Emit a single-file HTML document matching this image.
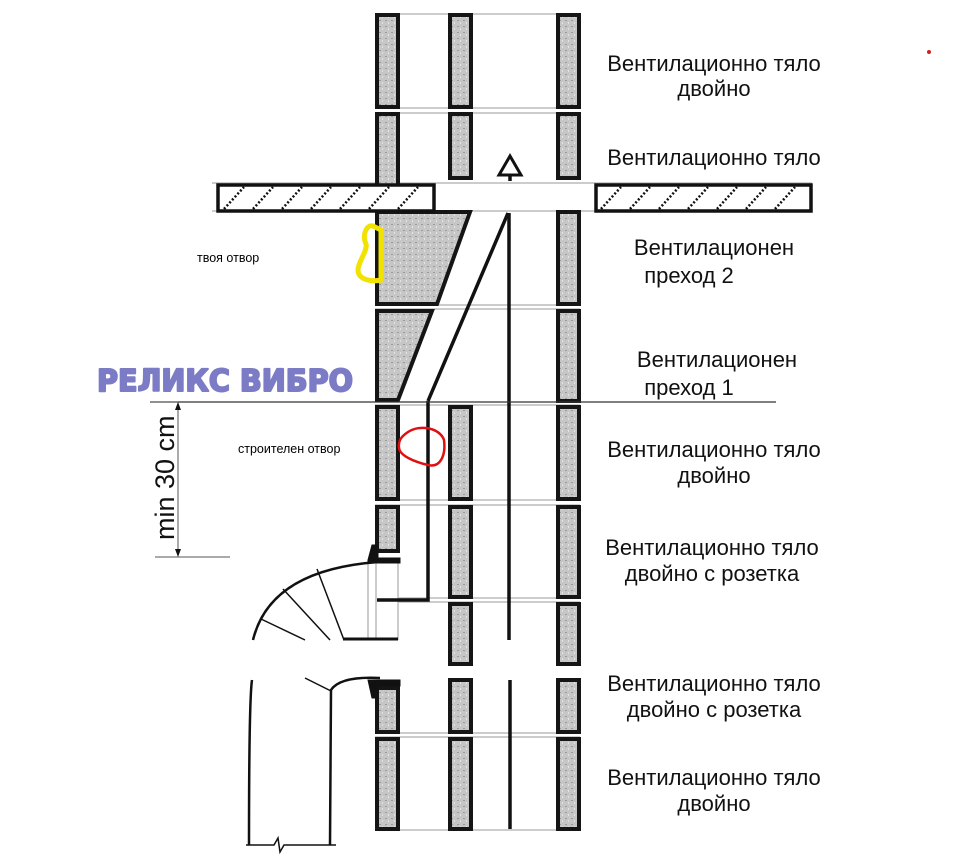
<!DOCTYPE html>
<html><head><meta charset="utf-8"><style>
html,body{margin:0;padding:0;background:#fff;}
svg{display:block}
.lb{font-family:"Liberation Sans",sans-serif;font-size:22px;fill:#111;text-anchor:middle}
.sm{font-family:"Liberation Sans",sans-serif;font-size:12.5px;fill:#000}
</style></head><body>
<svg width="964" height="858" viewBox="0 0 964 858" xmlns="http://www.w3.org/2000/svg">
<defs>
<pattern id="tx" width="6" height="6" patternUnits="userSpaceOnUse">
<rect width="6" height="6" fill="#c6c6c6"/><rect x="1" y="2" width="2" height="1" fill="#9a9a9a"/><rect x="4" y="4" width="1" height="2" fill="#e4e4e4"/>
</pattern>
</defs>
<g stroke="#bbb" stroke-width="1.5">
<line x1="375" y1="14" x2="580" y2="14"/><line x1="375" y1="108" x2="580" y2="108"/><line x1="375" y1="113" x2="580" y2="113"/>
<line x1="375" y1="305" x2="580" y2="305"/><line x1="375" y1="309" x2="580" y2="309"/>
<line x1="375" y1="405" x2="580" y2="405"/><line x1="375" y1="500" x2="580" y2="500"/><line x1="375" y1="505" x2="580" y2="505"/>
<line x1="398" y1="598" x2="580" y2="598"/><line x1="398" y1="602" x2="580" y2="602"/>
<line x1="375" y1="733" x2="580" y2="733"/><line x1="375" y1="737" x2="580" y2="737"/><line x1="375" y1="830" x2="580" y2="830"/>
<line x1="368" y1="561" x2="368" y2="640"/><line x1="376" y1="561" x2="376" y2="640"/><line x1="398" y1="561" x2="398" y2="640"/>
<line x1="212" y1="183" x2="812" y2="183"/><line x1="212" y1="211" x2="812" y2="211"/>
</g>
<g fill="url(#tx)" stroke="#151515" stroke-width="4">
<rect x="377" y="15" width="21" height="92"/><rect x="450" y="15" width="21" height="92"/><rect x="558" y="15" width="21" height="92"/>
<rect x="377" y="114" width="21" height="72"/><rect x="450" y="114" width="21" height="64"/><rect x="558" y="114" width="21" height="64"/>
<rect x="558" y="212" width="21" height="92"/><rect x="558" y="311" width="21" height="90"/>
<polygon points="377,212 470,212 437,304 377,304"/>
<polygon points="377,311 432,311 398,400 377,400"/>
<rect x="377" y="407" width="21" height="92"/><rect x="450" y="407" width="21" height="92"/><rect x="558" y="407" width="21" height="92"/>
<rect x="377" y="507" width="21" height="44"/><rect x="450" y="507" width="21" height="90"/><rect x="558" y="507" width="21" height="90"/>
<rect x="450" y="604" width="21" height="60"/><rect x="558" y="604" width="21" height="60"/>
<rect x="450" y="680" width="21" height="52"/><rect x="558" y="680" width="21" height="52"/>
<rect x="377" y="688" width="21" height="44"/>
<rect x="377" y="739" width="21" height="90"/><rect x="450" y="739" width="21" height="90"/><rect x="558" y="739" width="21" height="90"/>
</g>
<g stroke="#111" stroke-width="3.5" fill="#fff">
<rect x="218" y="185" width="216" height="26"/><rect x="596" y="185" width="215" height="26"/>
</g>
<g stroke="#111" stroke-width="2.5" stroke-dasharray="2,2">
<line x1="224" y1="209" x2="244" y2="187"/><line x1="253" y1="209" x2="273" y2="187"/><line x1="282" y1="209" x2="302" y2="187"/><line x1="311" y1="209" x2="331" y2="187"/><line x1="340" y1="209" x2="360" y2="187"/><line x1="369" y1="209" x2="389" y2="187"/><line x1="398" y1="209" x2="418" y2="187"/>
<line x1="601" y1="209" x2="621" y2="187"/><line x1="630" y1="209" x2="650" y2="187"/><line x1="659" y1="209" x2="679" y2="187"/><line x1="688" y1="209" x2="708" y2="187"/><line x1="717" y1="209" x2="737" y2="187"/><line x1="746" y1="209" x2="766" y2="187"/><line x1="775" y1="209" x2="795" y2="187"/>
</g>
<g stroke="#111" stroke-width="3.5" fill="none">
<line x1="508" y1="213" x2="428" y2="401"/>
<line x1="509" y1="213" x2="509" y2="640"/>
<line x1="510" y1="680" x2="510" y2="829"/>
<polyline points="428,401 428,600 377,600"/>
<polygon points="499,175 510,156 521,175" stroke-width="3"/>
<line x1="510" y1="175" x2="510" y2="181"/>
</g>
<line x1="150" y1="402" x2="776" y2="402" stroke="#333" stroke-width="1.2"/>
<g stroke="#111" fill="none">
<path d="M253,640 Q270,570 378,562" stroke-width="2.5"/>
<line x1="343" y1="639" x2="398" y2="639" stroke-width="3"/>
<g stroke-width="1.5"><line x1="317" y1="569" x2="344" y2="640"/><line x1="283" y1="589" x2="330" y2="640"/><line x1="261" y1="619" x2="305" y2="640"/>
<line x1="305" y1="678" x2="331" y2="691"/></g>
<path d="M252,680 Q249,700 249,845" stroke-width="2.5"/>
<path d="M380,678 Q340,676 331,690 L330,845" stroke-width="2.5"/>
<polyline points="246,845 274,845 278,838 280,852 284,845 336,845" stroke-width="1.5"/>
<path d="M368,560 L372,545 L378,545 L378,558 L400,558 L400,563 L368,563 Z" fill="#111" stroke-width="1"/>
<path d="M368,680 L400,680 L400,686 L378,686 L378,698 L372,698 Z" fill="#111" stroke-width="1"/>
</g>
<g stroke="#555" stroke-width="1">
<line x1="178" y1="403" x2="178" y2="556"/><line x1="150" y1="402" x2="178" y2="402"/><line x1="155" y1="557" x2="230" y2="557"/>
</g>
<path d="M175,410 L178,402 L181,410Z M175,549 L178,557 L181,549Z" fill="#111"/>
<text transform="translate(174,540) rotate(-90)" font-family="Liberation Sans,sans-serif" font-size="27" fill="#111">min 30 cm</text>
<text x="97" y="391" font-family="DejaVu Sans,Liberation Sans,sans-serif" font-weight="bold" font-size="30" fill="#7b7bc6" stroke="#7b7bc6" stroke-width="2" stroke-linejoin="round" textLength="256" lengthAdjust="spacingAndGlyphs">РЕЛИКС ВИБРО</text>
<text class="lb" x="714" y="71">Вентилационно тяло</text><text class="lb" x="714" y="96">двойно</text>
<text class="lb" x="714" y="165">Вентилационно тяло</text>
<text class="lb" x="714" y="255">Вентилационен</text><text class="lb" x="689" y="283">преход 2</text>
<text class="lb" x="717" y="367">Вентилационен</text><text class="lb" x="689" y="395">преход 1</text>
<text class="lb" x="714" y="457">Вентилационно тяло</text><text class="lb" x="714" y="483">двойно</text>
<text class="lb" x="712" y="555">Вентилационно тяло</text><text class="lb" x="712" y="581">двойно с розетка</text>
<text class="lb" x="714" y="691">Вентилационно тяло</text><text class="lb" x="714" y="717">двойно с розетка</text>
<text class="lb" x="714" y="785">Вентилационно тяло</text><text class="lb" x="714" y="811">двойно</text>
<text class="sm" x="197" y="262">твоя отвор</text>
<text class="sm" x="238" y="453">строителен отвор</text>
<path d="M373,226 C366,224 362,236 366,244 C368,250 358,262 358,270 C358,280 372,282 381,280 L381,230 Z" fill="none" stroke="#f2e200" stroke-width="5"/>
<path d="M408,432 C420,424 440,428 444,440 C446,456 440,468 428,465 C415,462 400,456 399,448 C398,440 402,436 408,432 Z" fill="none" stroke="#e01010" stroke-width="2.5"/>
<circle cx="929" cy="52" r="2" fill="#d02020"/>
</svg>
</body></html>
